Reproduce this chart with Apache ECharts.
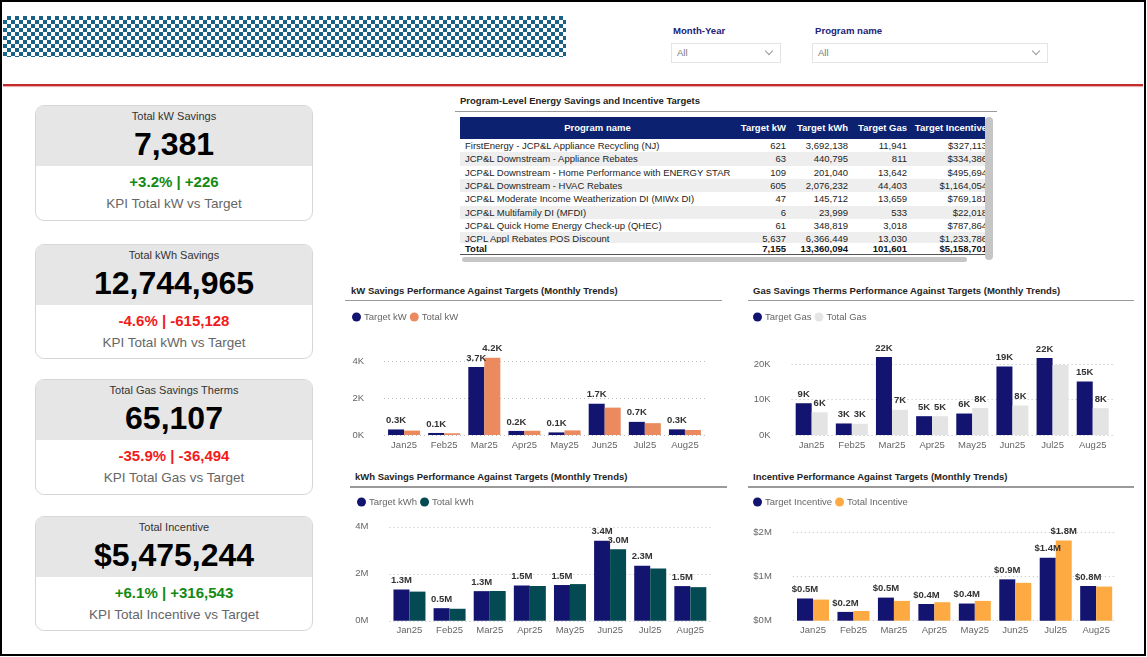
<!DOCTYPE html>
<html><head><meta charset="utf-8">
<script src="https://cdn.jsdelivr.net/npm/echarts@6/dist/echarts.min.js"></script>
<style>
*{box-sizing:border-box;margin:0;padding:0}
body{width:1147px;height:657px;background:#fff;font-family:'Liberation Sans',Arial,sans-serif;position:relative;overflow:hidden;color:#252423}
.abs{position:absolute}
#frame{left:0;top:0;width:1146px;height:656px;border:2.5px solid #000;pointer-events:none;z-index:10}
#logo{left:3px;top:16px;width:563px;height:41px;background:repeating-conic-gradient(#1a6289 0% 25%,#ffffff 0% 50%) 0 0/8px 8px}
#redline{left:3px;top:84px;width:1140px;height:2px;background:#c42b2b;box-shadow:0 1px 1px #e6a5a5}
.slab{font-size:9.6px;font-weight:bold;color:#1d2377;white-space:nowrap}
.sbox{height:20px;border:1px solid #e4e4e4;font-size:9.5px;color:#777;line-height:18px;padding-left:5px}
.chev{position:absolute;right:8px;top:4px;width:6px;height:6px;border-right:1px solid #999;border-bottom:1px solid #999;transform:rotate(45deg)}
.card{left:35px;width:278px;border:1px solid #d6d6d6;border-radius:9px;overflow:hidden;background:#fff}
.ctop{position:absolute;left:0;top:0;width:100%;height:60px;background:#e6e6e6}
.ctitle{position:absolute;left:0;width:100%;top:3px;line-height:14px;text-align:center;font-size:11px;color:#333}
.cbig{position:absolute;left:0;width:100%;top:20px;line-height:36px;text-align:center;font-size:32px;font-weight:bold;color:#000}
.cpct{position:absolute;left:0;width:100%;top:67px;line-height:18px;text-align:center;font-size:15px;font-weight:bold}
.clab{position:absolute;left:0;width:100%;top:90px;line-height:16px;text-align:center;font-size:13.5px;color:#666}
.ctitle2{font-size:9.5px;font-weight:bold;color:#252423;white-space:nowrap;line-height:12px}
.hline{height:1.5px;background:#9a9a9a}
#tbl{left:460px;top:117px;width:525px;height:139px;overflow:hidden}
.cell{position:absolute;white-space:nowrap;font-size:9.5px;line-height:13.3px}
.hcell{position:absolute;white-space:nowrap;font-size:9.5px;font-weight:bold;color:#fff;line-height:22px}
.chart{position:absolute}
</style></head>
<body>
<div id="frame" class="abs"></div>
<div id="logo" class="abs"></div>
<div id="redline" class="abs"></div>

<div class="abs slab" style="left:673px;top:25px">Month-Year</div>
<div class="abs sbox" style="left:671px;top:43px;width:110px">All<span class="chev"></span></div>
<div class="abs slab" style="left:815px;top:25px">Program name</div>
<div class="abs sbox" style="left:812px;top:43px;width:236px">All<span class="chev"></span></div>

<div id="cards"></div>

<div class="abs ctitle2" style="left:460px;top:95px">Program-Level Energy Savings and Incentive Targets</div>
<div class="abs hline" style="left:455px;top:110.5px;width:542px"></div>
<div id="tbl" class="abs"></div>
<div class="abs" style="left:985px;top:117px;width:8px;height:143px;background:#c6c6c6;border-radius:4px"></div>
<div class="abs" style="left:462px;top:257px;width:505px;height:5px;background:#c6c6c6;border-radius:3px"></div>

<div class="abs ctitle2" style="left:351px;top:284.5px">kW Savings Performance Against Targets (Monthly Trends)</div>
<div class="abs hline" style="left:345px;top:299.5px;width:377px"></div>
<div class="abs ctitle2" style="left:753px;top:284.5px">Gas Savings Therms Performance Against Targets (Monthly Trends)</div>
<div class="abs hline" style="left:748px;top:299.5px;width:386px"></div>
<div class="abs ctitle2" style="left:355px;top:471px">kWh Savings Performance Against Targets (Monthly Trends)</div>
<div class="abs hline" style="left:350px;top:486px;width:377px"></div>
<div class="abs ctitle2" style="left:753px;top:471px">Incentive Performance Against Targets (Monthly Trends)</div>
<div class="abs hline" style="left:748px;top:486px;width:386px"></div>

<div id="cKW" class="chart" style="left:345px;top:305px;width:385px;height:152px"></div>
<div id="cGas" class="chart" style="left:745px;top:305px;width:395px;height:152px"></div>
<div id="cKWh" class="chart" style="left:345px;top:490px;width:385px;height:152px"></div>
<div id="cInc" class="chart" style="left:745px;top:490px;width:395px;height:152px"></div>

<script>
// ---------------- DATA ----------------
const months = ['Jan25','Feb25','Mar25','Apr25','May25','Jun25','Jul25','Aug25'];

const targetKW = [300, 110, 3680, 220, 140, 1690, 710, 305];
const totalKW  = [239, 92, 4180, 230, 250, 1480, 640, 270];

const targetGas = [8950, 3250, 22000, 5300, 6050, 19300, 21700, 15051];
const totalGas  = [6400, 3150, 7100, 5300, 7600, 8300, 19700, 7557];

const targetKWh = [1330000, 535000, 1260000, 1500000, 1520000, 3400000, 2340000, 1475094];
const totalKWh  = [1240000, 510000, 1265000, 1480000, 1560000, 3040000, 2220000, 1429965];

const targetInc = [505000, 200000, 525000, 380000, 390000, 940000, 1430000, 788701];
const totalInc  = [480000, 220000, 450000, 420000, 450000, 860000, 1820000, 775244];

const kpiTitles = ['Total kW Savings','Total kWh Savings','Total Gas Savings Therms','Total Incentive'];
const kpiValues = ['7,381','12,744,965','65,107','$5,475,244'];
const kpiDeltas = ['+3.2% | +226','-4.6% | -615,128','-35.9% | -36,494','+6.1% | +316,543'];
const kpiPositive = [true,false,false,true];
const kpiLabels = ['KPI Total kW vs Target','KPI Total kWh vs Target','KPI Total Gas vs Target','KPI Total Incentive vs Target'];

const tableHeaders = ['Program name','Target kW','Target kWh','Target Gas','Target Incentive'];
const programs = [
  'FirstEnergy - JCP&L Appliance Recycling (NJ)',
  'JCP&L Downstream - Appliance Rebates',
  'JCP&L Downstream - Home Performance with ENERGY STAR',
  'JCP&L Downstream - HVAC Rebates',
  'JCP&L Moderate Income Weatherization DI (MIWx DI)',
  'JCP&L Multifamily DI (MFDI)',
  'JCP&L Quick Home Energy Check-up (QHEC)',
  'JCPL Appl Rebates POS Discount'
];
const progKW  = ['621','63','109','605','47','6','61','5,637'];
const progKWh = ['3,692,138','440,795','201,040','2,076,232','145,712','23,999','348,819','6,366,449'];
const progGas = ['11,941','811','13,642','44,403','13,659','533','3,018','13,030'];
const progInc = ['$327,113','$334,386','$495,694','$1,164,054','$769,181','$22,018','$787,864','$1,233,786'];
const totalsRow = ['Total','7,155','13,360,094','101,601','$5,158,701'];

// ---------------- KPI CARDS ----------------
const cardTops = [105, 244, 379, 516];
const cardH = [116, 115, 116, 115];
const cardsEl = document.getElementById('cards');
kpiTitles.forEach((t,i)=>{
  const c = document.createElement('div');
  c.className = 'abs card';
  c.style.top = cardTops[i]+'px'; c.style.height = cardH[i]+'px';
  c.innerHTML = '<div class="ctop"><div class="ctitle"></div><div class="cbig"></div></div><div class="cpct"></div><div class="clab"></div>';
  c.querySelector('.ctitle').textContent = t;
  c.querySelector('.cbig').textContent = kpiValues[i];
  const p = c.querySelector('.cpct');
  p.textContent = kpiDeltas[i];
  p.style.color = kpiPositive[i] ? '#138a13' : '#f21b1b';
  c.querySelector('.clab').textContent = kpiLabels[i];
  cardsEl.appendChild(c);
});

// ---------------- TABLE ----------------
const tbl = document.getElementById('tbl');
const colRight = [null, 326, 388, 447, 527];
const colW = [null, 55, 60, 58, 80];
function addCell(parent, cls, text, i, top, extra){
  const s = document.createElement('div');
  s.className = cls;
  s.textContent = text;
  s.style.top = top+'px';
  if(i===0){ s.style.left='5px'; }
  else { s.style.left=(colRight[i]-colW[i])+'px'; s.style.width=colW[i]+'px'; s.style.textAlign='right'; }
  if(extra) Object.assign(s.style, extra);
  parent.appendChild(s);
}
const hdr = document.createElement('div');
hdr.className='abs'; Object.assign(hdr.style,{left:'0',top:'0',width:'600px',height:'22px',background:'#0c2170'});
tbl.appendChild(hdr);
tableHeaders.forEach((h,i)=>{
  if(i===0){ const s=document.createElement('div'); s.className='hcell'; s.textContent=h; Object.assign(s.style,{left:'0',width:'275px',textAlign:'center',top:'0'}); hdr.appendChild(s);} 
  else addCell(hdr,'hcell',h,i,0);
});
const body = document.createElement('div');
body.className='abs'; Object.assign(body.style,{left:'0',top:'22px',width:'600px',height:'104px',overflow:'hidden'});
tbl.appendChild(body);
const cols = [programs, progKW, progKWh, progGas, progInc];
programs.forEach((p,r)=>{
  const row = document.createElement('div');
  row.className='abs';
  Object.assign(row.style,{left:'0',top:(r*13.3)+'px',width:'600px',height:'13.3px',background: r%2 ? '#eeeeee' : '#ffffff'});
  cols.forEach((col,i)=> addCell(row,'cell',col[r],i,0,{color:'#252423'}));
  body.appendChild(row);
});
const tot = document.createElement('div');
tot.className='abs'; Object.assign(tot.style,{left:'0',top:'126px',width:'600px',height:'12px',borderBottom:'1.5px solid #555'});
totalsRow.forEach((v,i)=> addCell(tot,'cell',v,i,-1,{fontWeight:'bold',color:'#111'}));
tbl.appendChild(tot);

// ---------------- CHARTS ----------------
const FONT = "'Liberation Sans', Arial, sans-serif";
const NAVY = '#13146f';
const measureCtx = document.createElement('canvas').getContext('2d');
measureCtx.font = "bold 9.5px 'Liberation Sans'";

function makeChart(id, cfg){
  const chart = echarts.init(document.getElementById(id));
  const labelBase = {show:true, position:'top', distance:4, fontSize:9.5, fontWeight:'bold', color:'#333', fontFamily:FONT};
  chart.setOption({
    animation:false,
    textStyle:{fontFamily:FONT},
    legend:{left:cfg.legendLeft, top:7, padding:0, icon:'circle', itemWidth:9, itemHeight:9, itemGap:3,
      textStyle:{fontSize:9.5, color:'#666', fontFamily:FONT, padding:[0,0,0,-2]}, data:cfg.names},
    grid:{left:cfg.left, right:cfg.right, top:cfg.top, height:cfg.height},
    xAxis:{type:'category', data:months, axisLine:{show:false}, axisTick:{show:false},
      axisLabel:{color:'#666', fontSize:9.5, margin:5, fontFamily:FONT}},
    yAxis:{type:'value', min:0, max:cfg.max, interval:cfg.interval,
      axisLine:{show:false}, axisTick:{show:false},
      axisLabel:{formatter:cfg.axisFmt, color:'#666', fontSize:9.5, margin:cfg.yMargin, showMaxLabel:false, fontFamily:FONT},
      splitLine:{show:true, showMaxLine:false, lineStyle:{type:[1,3], color:'#bdbdbd', width:1}}},
    series:[
      {name:cfg.names[0], type:'bar', data:cfg.target, barWidth:16, barGap:'0%', itemStyle:{color:NAVY},
        label:Object.assign({formatter:p=>cfg.fmt(p.value)}, labelBase)},
      {name:cfg.names[1], type:'bar', data:cfg.total, barWidth:16, barGap:'0%', itemStyle:{color:cfg.color2},
        label:Object.assign({formatter:p=>cfg.fmt(p.value)}, labelBase)}
    ]
  });
  // Hide the second label when it would collide with the first (as in the source visual)
  const show = cfg.total.map((v,i)=>{
    const pT = chart.convertToPixel({seriesIndex:0}, [i, cfg.target[i]]);
    const pV = chart.convertToPixel({seriesIndex:1}, [i, v]);
    const wT = measureCtx.measureText(cfg.fmt(cfg.target[i])).width;
    const wV = measureCtx.measureText(cfg.fmt(v)).width;
    const overlapX = (wT + wV)/2 > 16;
    const overlapY = Math.abs(pT[1]-pV[1]) < 8;
    return !(overlapX && overlapY);
  });
  chart.setOption({series:[{}, {label:{formatter:p=> show[p.dataIndex] ? cfg.fmt(p.value) : ''}}]});
  return chart;
}

makeChart('cKW', {
  names:['Target kW','Total kW'], target:targetKW, total:totalKW, color2:'#ea8a5e',
  legendLeft:7, left:39, right:25, top:37.5, height:92.5, max:5000, interval:2000, yMargin:20,
  axisFmt:v=> (v/1000)+'K', fmt:v=> (v/1000).toFixed(1)+'K'
});
makeChart('cGas', {
  names:['Target Gas','Total Gas'], target:targetGas, total:totalGas, color2:'#e4e4e4',
  legendLeft:8, left:46.6, right:27.2, top:41.25, height:88.75, max:25000, interval:10000, yMargin:21,
  axisFmt:v=> (v/1000)+'K', fmt:v=> Math.round(v/1000)+'K'
});
makeChart('cKWh', {
  names:['Target kWh','Total kWh'], target:targetKWh, total:totalKWh, color2:'#034a52',
  legendLeft:12, left:44.4, right:19.6, top:25, height:105.75, max:4500000, interval:2000000, yMargin:21,
  axisFmt:v=> (v/1e6)+'M', fmt:v=> (v/1e6).toFixed(1)+'M'
});
makeChart('cInc', {
  names:['Target Incentive','Total Incentive'], target:targetInc, total:totalInc, color2:'#fdaa42',
  legendLeft:8, left:47.8, right:23.6, top:20.7, height:110, max:2500000, interval:1000000, yMargin:21,
  axisFmt:v=> '$'+(v/1e6)+'M', fmt:v=> '$'+(v/1e6).toFixed(1)+'M'
});
</script>
</body></html>
